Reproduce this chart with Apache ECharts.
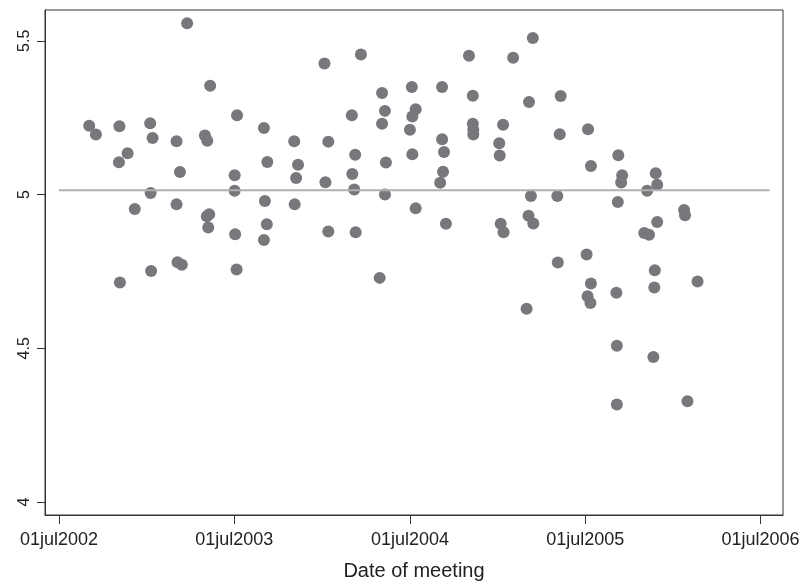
<!DOCTYPE html>
<html>
<head>
<meta charset="utf-8" />
<title>Date of meeting</title>
<style type="text/css">
body,div{margin:0;padding:0;}
#chart{width:806px;height:586px;background:#fff;}
</style>
<script src="https://cdn.jsdelivr.net/npm/echarts@6/dist/echarts.min.js"></script>
</head>
<body>
<div id="chart"></div>
<script type="text/javascript">
// points: meeting date and value
var meetingDates = [
  '2002-09-02','2002-09-16','2002-11-04','2002-11-21','2002-11-03','2002-11-05','2002-12-06',
  '2003-01-07','2003-01-12','2003-01-08','2003-01-09',
  '2003-03-03','2003-03-10','2003-03-03','2003-03-05','2003-03-14','2003-03-25',
  '2003-05-01','2003-05-06','2003-05-10','2003-05-05','2003-05-08','2003-05-12',
  '2003-07-07','2003-07-02','2003-07-02','2003-07-03','2003-07-06',
  '2003-09-01','2003-09-08','2003-09-03','2003-09-07','2003-09-01',
  '2003-11-03','2003-11-11','2003-11-07','2003-11-04',
  '2004-01-05','2004-01-07','2004-01-13','2004-01-13',
  '2004-03-02','2004-03-09','2004-03-03','2004-03-07','2004-03-10','2004-03-21',
  '2004-04-29','2004-05-04','2004-05-10','2004-05-04','2004-05-12','2004-05-10',
  '2004-07-01','2004-07-05','2004-07-13','2004-07-06','2004-07-06','2004-07-13',
  '2004-09-06','2004-09-06','2004-09-10','2004-09-08','2004-09-02','2004-09-14',
  '2004-11-01','2004-11-09','2004-11-09','2004-11-10','2004-11-10',
  '2005-01-11','2005-01-03','2005-01-04','2005-01-06','2005-01-12','2005-02-01',
  '2005-03-01','2005-03-06','2005-03-14','2005-03-10','2005-03-05','2005-03-15',
  '2005-05-04','2005-05-09','2005-05-11','2005-05-05',
  '2005-07-04','2005-07-07','2005-07-13','2005-07-13','2005-07-06','2005-07-12',
  '2005-09-08','2005-09-16','2005-09-14','2005-09-07','2005-09-04','2005-09-05','2005-09-05',
  '2005-11-07','2005-11-01','2005-11-11','2005-11-25','2005-11-28','2005-11-28',
  '2005-11-23','2005-11-22','2005-11-20',
  '2006-01-23','2006-01-25','2006-01-30','2006-02-20'
];
var values = [
  5.224,5.195,5.222,5.134,5.105,4.714,4.953,
  5.232,5.184,5.005,4.751,
  5.173,5.073,4.968,4.780,4.772,5.557,
  5.192,5.175,4.936,4.929,4.893,5.354,
  5.258,5.063,5.012,4.871,4.756,
  5.216,5.106,4.979,4.903,4.852,
  5.173,5.097,5.054,4.968,
  5.426,5.040,5.172,4.880,
  5.258,5.129,5.067,5.016,4.877,5.455,
  4.729,5.330,5.272,5.230,5.104,5.000,
  5.211,5.350,5.277,5.254,5.131,4.955,
  5.350,5.180,5.138,5.074,5.038,4.905,
  5.451,5.321,5.230,5.211,5.195,
  5.227,5.167,5.127,4.905,4.877,5.445,
  4.629,5.301,5.509,4.995,4.931,4.906,
  4.995,5.196,5.320,4.779,
  4.805,5.212,5.093,4.711,4.669,4.647,
  5.128,5.063,5.039,4.976,4.681,4.508,4.317,
  5.012,4.875,4.869,5.069,5.032,4.911,
  4.754,4.698,4.472,
  4.950,4.933,4.328,4.717
];
// horizontal reference line
var lineDates = ['2002-07-01','2006-07-20'];
var lineValues = [5.014, 5.014];

var xTickDates = ['2002-07-01','2003-07-01','2004-07-01','2005-07-01','2006-07-01'];
var xTickLabels = ['01jul2002','01jul2003','01jul2004','01jul2005','01jul2006'];
var yTicks = [4, 4.5, 5, 5.5];

function toTime(s) {
    var p = s.split('-');
    return Date.UTC(+p[0], +p[1] - 1, +p[2]);
}

var xTickTimes = xTickDates.map(toTime);
var points = meetingDates.map(function (d, i) { return [toTime(d), values[i]]; });
var refLine = lineDates.map(function (d, i) { return [toTime(d), lineValues[i]]; });

var myChart = echarts.init(document.getElementById('chart'));
var font = '"Liberation Sans", Arial, sans-serif';
option = {
    animation: false,
    grid: {
        left: 45, top: 10, right: 23, bottom: 69,
        show: true, borderColor: '#333', borderWidth: 1
    },
    xAxis: {
        // dates as timestamps on a value axis so the ticks can sit on 1 July
        type: 'value',
        min: toTime('2002-06-02'),
        max: toTime('2006-08-17'),
        name: 'Date of meeting',
        nameLocation: 'middle',
        nameGap: 46,
        nameTextStyle: { fontSize: 20, color: '#222', fontFamily: font },
        axisLine: { lineStyle: { color: '#333', width: 1 } },
        axisTick: { show: true, customValues: xTickTimes, length: 9, lineStyle: { color: '#333' } },
        axisLabel: {
            customValues: xTickTimes,
            fontSize: 18, color: '#222', fontFamily: font, margin: 16,
            formatter: function (v) {
                var i = xTickTimes.indexOf(v);
                return i >= 0 ? xTickLabels[i] : '';
            }
        },
        splitLine: { show: false }
    },
    yAxis: {
        type: 'value',
        min: 3.958,
        max: 5.6,
        axisLine: { show: true, lineStyle: { color: '#333', width: 1 } },
        axisTick: { show: true, customValues: yTicks, length: 8, lineStyle: { color: '#333' } },
        axisLabel: {
            customValues: yTicks,
            rotate: 90,
            fontSize: 16, color: '#222', fontFamily: font, margin: 12
        },
        splitLine: { show: false }
    },
    series: [
        {
            type: 'scatter',
            data: points,
            symbolSize: 12,
            itemStyle: { color: '#77787c', opacity: 1 },
            z: 2
        },
        {
            type: 'line',
            data: refLine,
            symbol: 'none',
            lineStyle: { color: '#b0b0b2', width: 2 },
            z: 3
        }
    ]
};
myChart.setOption(option);
</script>
</body>
</html>
